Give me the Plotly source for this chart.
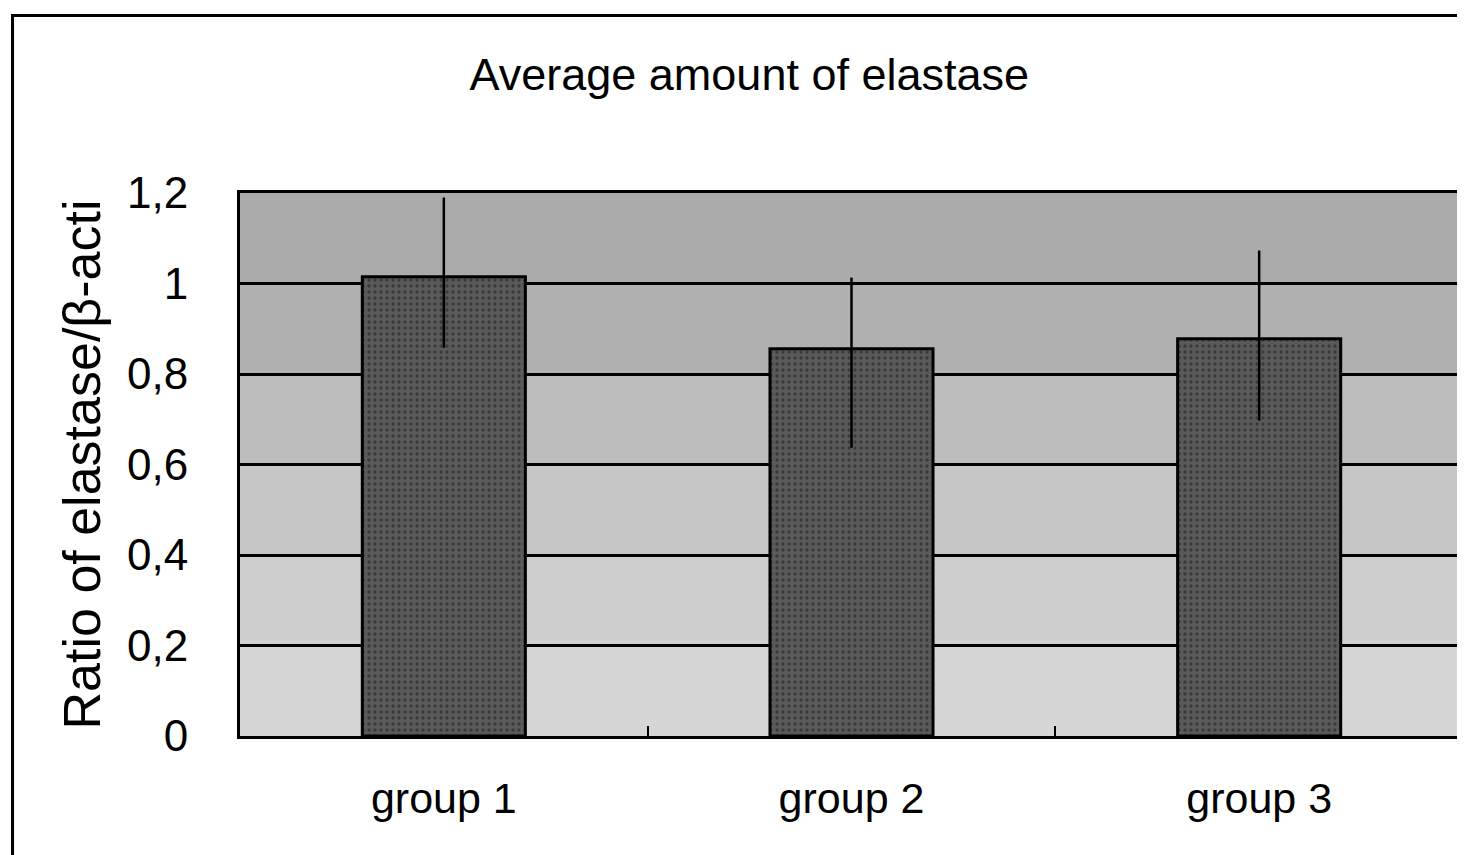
import plotly.graph_objects as go

categories = ["group 1", "group 2", "group 3"]
values = [1.015, 0.856, 0.878]
err_plus = [0.175, 0.157, 0.195]
err_minus = [0.157, 0.219, 0.181]
tick_vals = [0, 0.2, 0.4, 0.6, 0.8, 1.0, 1.2]
tick_text = ["0", "0,2", "0,4", "0,6", "0,8", "1", "1,2"]
band_edges = [0, 0.2, 0.4, 0.6, 0.8, 1.0, 1.2]
band_colors = ["#d6d6d6", "#cfcfcf", "#c6c6c6", "#bdbdbd", "#b0b0b0", "#ababab"]

FONT = "Liberation Sans, Arial, sans-serif"

fig = go.Figure()
fig.add_trace(go.Bar(
    x=categories, y=values,
    marker=dict(color="#555555", line=dict(color="#000000", width=3),
                pattern=dict(shape=".", fgcolor="#1a1a1a", bgcolor="#5a5a5a", size=6, solidity=0.25)),
    error_y=dict(type="data", symmetric=False, array=err_plus, arrayminus=err_minus,
                 color="#000000", thickness=2.5, width=0),
    width=0.4,
))

shapes = []
for i in range(len(band_colors)):
    shapes.append(dict(type="rect", xref="paper", yref="y", x0=0, x1=1,
                       y0=band_edges[i], y1=band_edges[i + 1],
                       fillcolor=band_colors[i], line=dict(width=0), layer="below"))
# outer figure frame
shapes.append(dict(type="rect", xref="paper", yref="paper", x0=-0.186, x1=1.01, y0=-0.4, y1=1.327,
                   line=dict(color="#000000", width=3), fillcolor="rgba(0,0,0,0)"))
fig.update_layout(shapes=shapes)

fig.update_layout(
    width=1465, height=855,
    margin=dict(l=232, r=7, t=185, b=127),
    paper_bgcolor="#ffffff", plot_bgcolor="#c4c4c4",
    showlegend=False,
    title=dict(text="Average amount of elastase", x=0.506, xanchor="center", y=0.922, yanchor="middle",
               font=dict(family=FONT, size=45, color="#000000")),
    font=dict(family=FONT, color="#000000"),
    xaxis=dict(showgrid=False, showline=True, linecolor="#000000", linewidth=3, mirror=True,
               ticks="inside", tickson="boundaries", ticklen=10, tickwidth=2, tickcolor="#000000",
               tickfont=dict(size=43), ticklabelstandoff=22),
    yaxis=dict(range=[0, 1.2], tickvals=tick_vals, ticktext=tick_text,
               showgrid=True, gridcolor="#000000", gridwidth=3,
               showline=True, linecolor="#000000", linewidth=3, mirror=True,
               ticks="", tickfont=dict(size=44), ticklabelstandoff=40,
               zeroline=False,
               title=dict(text="Ratio of elastase/β-acti", font=dict(size=52), standoff=10)),
)

fig.write_html("out.html")
